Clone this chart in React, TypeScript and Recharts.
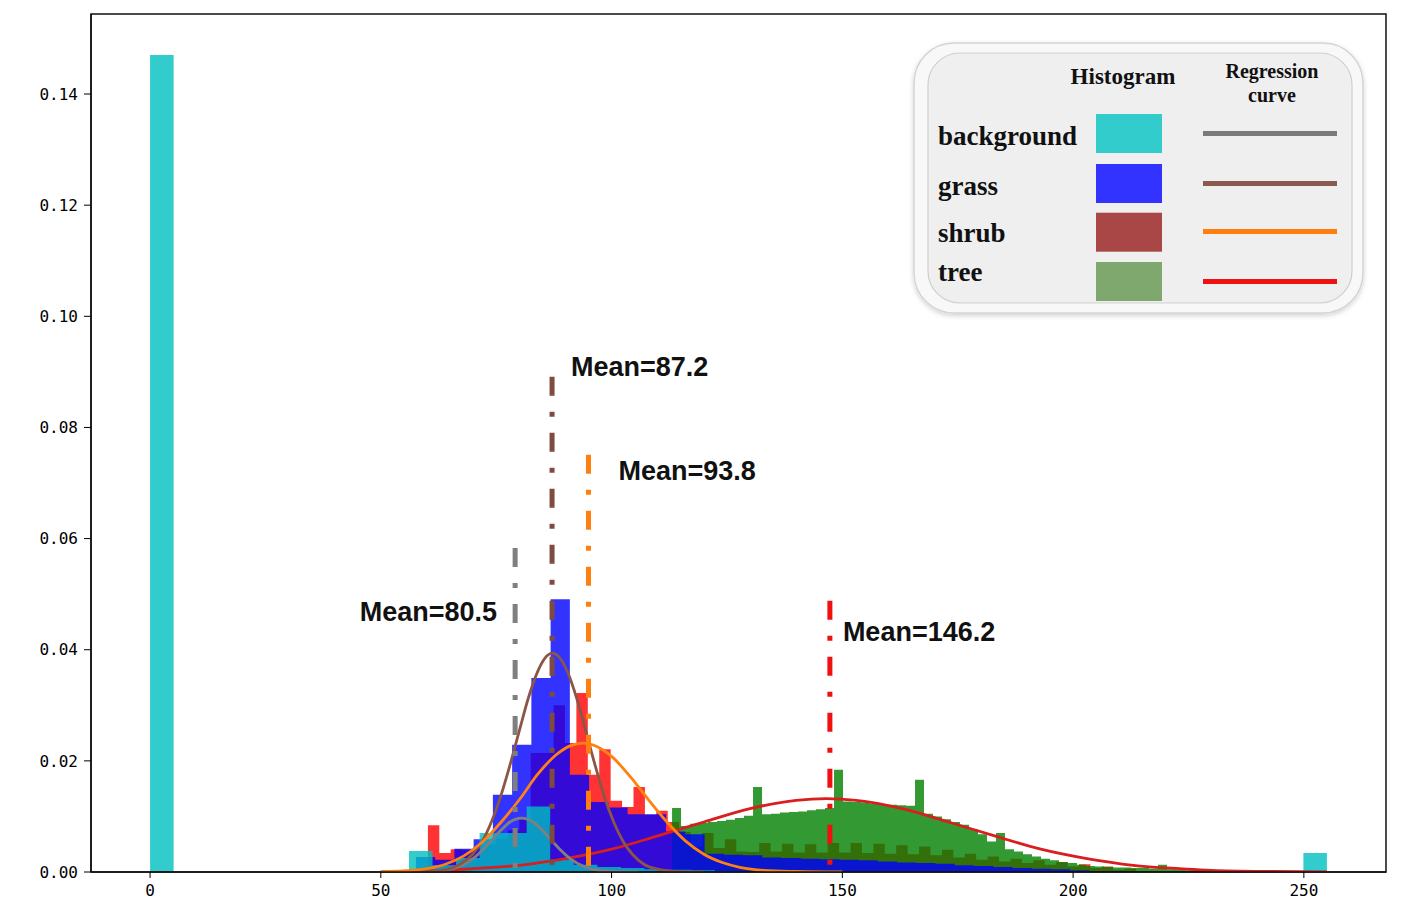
import { Area, ComposedChart, Line, ReferenceArea, ReferenceLine, XAxis, YAxis } from "recharts"

// axis ticks
const xTicks = [0, 50, 100, 150, 200, 250]
const yTicks = [0, 0.02, 0.04, 0.06, 0.08, 0.1, 0.12, 0.14]

// legend rows
const classes = ["background", "grass", "shrub", "tree"]

// histograms: left edge of the first bin, bin width, density of every bin
const backgroundStart = 0
const backgroundBin = 5.1
const backgroundHist = [
  0.147, 0, 0, 0, 0, 0, 0, 0, 0, 0,
  0, 0.0038, 0.0012, 0.0025, 0.007, 0.007, 0.0118, 0.0022, 0.0013, 0.0009,
  0.0007, 0.0005, 0.0004, 0.0003, 0.0002, 0.0001, 0, 0, 0, 0,
  0, 0, 0, 0, 0, 0, 0, 0, 0, 0,
  0, 0, 0, 0, 0, 0, 0, 0, 0, 0.0034,
]

const grassStart = 57.6
const grassBin = 4.17
const grassHist = [
  0.0027, 0.0022, 0.0042, 0.0059, 0.0139, 0.0229, 0.0349, 0.0491, 0.0175, 0.0126,
  0.0116, 0.0104, 0.0104, 0.0073, 0.0068, 0.0033, 0.0031, 0.003, 0.0026, 0.0025,
  0.0024, 0.0023, 0.0022, 0.0021, 0.0019, 0.0017, 0.0016, 0.0015, 0.0012, 0.0011,
  0.0009, 0.0007, 0.0006, 0.0005, 0.0003, 0.0002, 0.0001,
]

const shrubStart = 60.2
const shrubBin = 2.475
const shrubHist = [
  0.0084, 0.0034, 0.0041, 0.004, 0.0045, 0.005, 0.006, 0.0075, 0.0095, 0.0214,
  0.0214, 0.03, 0.0232, 0.0322, 0.0175, 0.0221, 0.0128, 0.0117, 0.0153, 0.0103,
  0.011, 0.009, 0.0072, 0.0046, 0.007, 0.0043, 0.0059, 0.0037, 0.0036, 0.0052,
  0.0037, 0.0051, 0.0035, 0.005, 0.0035, 0.0052, 0.0035, 0.0052, 0.0034, 0.0051,
  0.0033, 0.0048, 0.0032, 0.0046, 0.003, 0.004, 0.0026, 0.0033, 0.0022, 0.0028,
  0.0019, 0.0024, 0.0016, 0.0021, 0.0013, 0.0018, 0.001, 0.0014, 0.0007, 0.001,
  0.0004, 0.0006, 0.0002,
]

const treeStart = 113.1
const treeBin = 1.95
const treeHist = [
  0.0115, 0.0083, 0.0087, 0.0088, 0.009, 0.0092, 0.0094, 0.0097, 0.0101, 0.0153,
  0.0104, 0.0105, 0.0107, 0.0108, 0.0109, 0.0111, 0.0113, 0.0115, 0.0184, 0.0127,
  0.0126, 0.0125, 0.0123, 0.0122, 0.0121, 0.012, 0.0119, 0.0166, 0.0105, 0.01,
  0.0095, 0.009, 0.0085, 0.0077, 0.0068, 0.0055, 0.007, 0.0041, 0.0037, 0.0032,
  0.0028, 0.0024, 0.0021, 0.0018, 0.0016, 0.0013, 0.0011, 0.001, 0.0009, 0.0008,
  0.0008, 0.0007, 0.0007, 0.0006, 0.0013, 0.0005, 0.0004, 0.0003, 0.0002, 0.0001,
]

// regression curves
const bgCurveX = [55, 60, 64, 67, 70, 72, 74, 76, 78, 80.5, 83, 85, 87, 89, 91, 94, 97, 101, 106]
const bgCurveY = [0, 0.0001, 0.0003, 0.001, 0.0024, 0.0039, 0.0057, 0.0075, 0.009, 0.0097, 0.009, 0.0075, 0.0057, 0.0039, 0.0024, 0.001, 0.0003, 0.0001, 0]

const grassCurveX = [55, 60, 64, 67, 70, 72, 74, 76, 78, 80, 82, 84, 86, 87.2, 88.5, 90.5, 92.5, 94.5, 96.5, 98.5, 100.5, 102.5, 104.5, 107, 110, 114, 120]
const grassCurveY = [0, 0.0001, 0.0004, 0.0013, 0.0033, 0.0056, 0.0091, 0.0137, 0.0193, 0.0254, 0.0314, 0.0361, 0.0389, 0.0394, 0.0388, 0.0359, 0.0311, 0.0251, 0.019, 0.0134, 0.0089, 0.0055, 0.0032, 0.0014, 0.0005, 0.0001, 0]

const shrubCurveX = [50, 55, 60, 64, 68, 72, 76, 80, 84, 88, 91, 93.8, 97, 100, 104, 108, 112, 116, 120, 124, 128, 133, 140, 150]
const shrubCurveY = [0.0001, 0.0002, 0.0006, 0.0014, 0.0029, 0.0054, 0.0089, 0.013, 0.0176, 0.0211, 0.0227, 0.0232, 0.0225, 0.0208, 0.0172, 0.013, 0.009, 0.0056, 0.0032, 0.0017, 0.0008, 0.0003, 0.0001, 0]

const treeCurveX = [50, 60, 70, 80, 90, 100, 110, 120, 130, 140, 146.5, 153, 163, 173, 183, 193, 203, 213, 223, 233, 243, 255]
const treeCurveY = [0.0001, 0.0002, 0.0006, 0.0012, 0.0024, 0.0041, 0.0065, 0.009, 0.0114, 0.0129, 0.0132, 0.0129, 0.0114, 0.009, 0.0065, 0.0041, 0.0024, 0.0012, 0.0006, 0.0002, 0.0001, 0]

// mean markers
const meanLabels = ["Mean=80.5", "Mean=87.2", "Mean=93.8", "Mean=146.2"]
const meanX = [79.1, 87.1, 95.0, 147.3]
const meanTop = [0.0583, 0.0891, 0.0751, 0.0488]

const histColors = ["#00bfbf", "#0000ff", "#ff0000", "#008000"]
const curveColors = ["#808080", "#8b5646", "#ff8210", "#d81e1e"]
const meanColors = ["#7f7f7f", "#7d4b3f", "#ff7f0e", "#f01010"]
const swatchColors = ["#33cccc", "#3333ff", "#a94747", "#7ea86e"]
const legendLineColors = ["#7a7a7a", "#8b5a4e", "#ff7f0e", "#ee1111"]

// where each mean label sits relative to the top of its line
const labelPos = [
  { dx: -18, dy: 73, anchor: "end" },
  { dx: 19, dy: -1, anchor: "start" },
  { dx: 30, dy: 25, anchor: "start" },
  { dx: 13, dy: 40, anchor: "start" },
]

const toSteps = (start: number, width: number, values: number[]) => {
  const pts = values.map((v, i) => ({ x: start + i * width, y: v }))
  pts.push({ x: start + values.length * width, y: 0 })
  return pts
}

const toCurve = (xs: number[], ys: number[]) => xs.map((x, i) => ({ x, y: ys[i] }))

const hists = [
  { name: "shrub", data: toSteps(shrubStart, shrubBin, shrubHist), color: histColors[2] },
  { name: "tree", data: toSteps(treeStart, treeBin, treeHist), color: histColors[3] },
  { name: "grass", data: toSteps(grassStart, grassBin, grassHist), color: histColors[1] },
  { name: "background", data: toSteps(backgroundStart, backgroundBin, backgroundHist), color: histColors[0] },
]

const curves = [
  { name: "tree-fit", data: toCurve(treeCurveX, treeCurveY), color: curveColors[3] },
  { name: "background-fit", data: toCurve(bgCurveX, bgCurveY), color: curveColors[0] },
  { name: "grass-fit", data: toCurve(grassCurveX, grassCurveY), color: curveColors[1] },
  { name: "shrub-fit", data: toCurve(shrubCurveX, shrubCurveY), color: curveColors[2] },
]

const tickFont = { fill: "#000", fontSize: 16, fontFamily: "DejaVu Sans Mono" }
const serif = "'Liberation Serif', 'Times New Roman', serif"

function Legend() {
  const rowBase = [137, 187, 233.7, 272.7]
  const swatchY = [106, 156, 204.7, 254]
  const lineY = [125.5, 175.5, 223.5, 273.5]
  return (
    <svg width={1400} height={897} style={{ position: "absolute", left: 0, top: 0, pointerEvents: "none" }}>
      <defs>
        <filter id="legendShadow" x="-5%" y="-5%" width="110%" height="115%">
          <feDropShadow dx="0" dy="2" stdDeviation="2.5" floodColor="#000" floodOpacity="0.18" />
        </filter>
      </defs>
      <rect x={906} y={35} width={449} height={270} rx={40} fill="#f8f8f8" stroke="#d4d4d4" strokeWidth={1.5} filter="url(#legendShadow)" />
      <rect x={920} y={45} width={424} height={250} rx={32} fill="#efefef" stroke="#cfcfcf" strokeWidth={1.2} />
      <text x={1115} y={76} textAnchor="middle" fontFamily={serif} fontWeight="bold" fontSize={23} fill="#111">
        Histogram
      </text>
      <text x={1264} y={70} textAnchor="middle" fontFamily={serif} fontWeight="bold" fontSize={20} fill="#111">
        Regression
      </text>
      <text x={1264} y={94} textAnchor="middle" fontFamily={serif} fontWeight="bold" fontSize={20} fill="#111">
        curve
      </text>
      {classes.map((c, i) => (
        <g key={c}>
          <text x={930} y={rowBase[i]} fontFamily={serif} fontWeight="bold" fontSize={27} fill="#111">
            {c}
          </text>
          <rect x={1088} y={swatchY[i]} width={66} height={39} fill={swatchColors[i]} />
          <line x1={1195} x2={1329} y1={lineY[i]} y2={lineY[i]} stroke={legendLineColors[i]} strokeWidth={5} />
        </g>
      ))}
    </svg>
  )
}

export default function App() {
  return (
    <div style={{ position: "relative", width: 1400, height: 897 }}>
      <ComposedChart width={1400} height={897} margin={{ top: 6, right: 22, bottom: 0, left: 0 }}>
        <XAxis
          type="number"
          dataKey="x"
          domain={[-12.8, 267.8]}
          ticks={xTicks}
          interval={0}
          allowDataOverflow
          height={33}
          tickSize={6}
          tickMargin={7}
          tick={tickFont}
          tickLine={{ stroke: "#000" }}
          axisLine={{ stroke: "#111", strokeWidth: 1.5 }}
        />
        <YAxis
          type="number"
          dataKey="y"
          domain={[0, 0.1544]}
          ticks={yTicks}
          interval={0}
          allowDataOverflow
          width={83}
          tickSize={7}
          tickMargin={6}
          tick={tickFont}
          tickFormatter={(v: number) => v.toFixed(2)}
          tickLine={{ stroke: "#000" }}
          axisLine={{ stroke: "#111", strokeWidth: 1.5 }}
        />
        {hists.map((h) => (
          <Area
            key={h.name}
            data={h.data}
            dataKey="y"
            type="stepAfter"
            baseValue={0}
            fill={h.color}
            fillOpacity={0.8}
            stroke="none"
            dot={false}
            activeDot={false}
            isAnimationActive={false}
          />
        ))}
        {curves.map((c) => (
          <Line
            key={c.name}
            data={c.data}
            dataKey="y"
            type="monotone"
            stroke={c.color}
            strokeWidth={2.8}
            dot={false}
            activeDot={false}
            isAnimationActive={false}
          />
        ))}
        {meanLabels.map((label, i) => (
          <ReferenceLine
            key={label}
            segment={[
              { x: meanX[i], y: meanTop[i] },
              { x: meanX[i], y: 0 },
            ]}
            stroke={meanColors[i]}
            strokeWidth={5}
            strokeDasharray="19 16 5 16"
            label={(props: any) => {
              const vb = props.viewBox || {}
              return (
                <text
                  x={vb.x + labelPos[i].dx}
                  y={vb.y + labelPos[i].dy}
                  textAnchor={labelPos[i].anchor}
                  fontFamily="'Liberation Sans', Arial, sans-serif"
                  fontWeight="bold"
                  fontSize={27}
                  fill="#111"
                >
                  {label}
                </text>
              )
            }}
          />
        ))}
        <ReferenceArea
          x1={-12.8}
          x2={267.8}
          y1={0}
          y2={0.1544}
          fill="none"
          stroke="#111"
          strokeWidth={1.5}
          ifOverflow="visible"
        />
      </ComposedChart>
      <Legend />
    </div>
  )
}
